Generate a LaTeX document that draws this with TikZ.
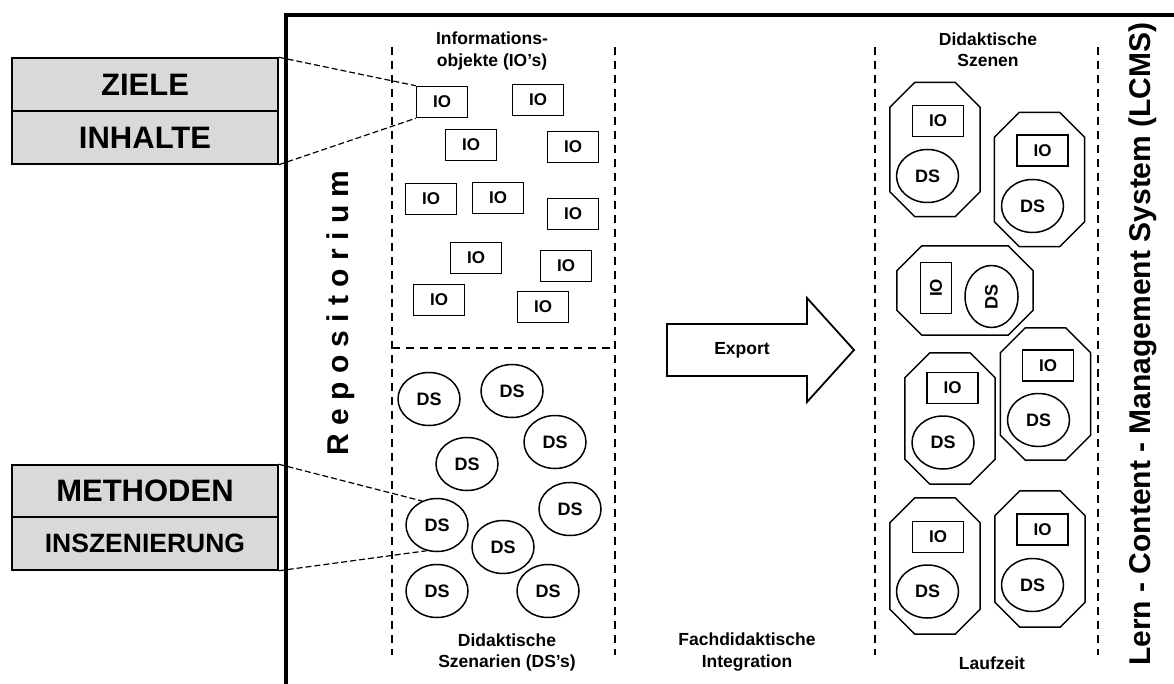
\documentclass[tikz,border=0pt]{standalone}
\usepackage{fontspec}
\setmainfont{Liberation Sans}
\usetikzlibrary{positioning,shapes.geometric,calc}
\tikzstyle{termBox}=[draw,line width=1.5pt,fill=black!15,minimum width=266pt,inner sep=0pt,font=\fontsize{31}{31}\selectfont\bfseries]
\tikzstyle{ioNode}=[draw,line width=1.5pt,minimum width=51pt,minimum height=31pt,inner sep=0pt,font=\fontsize{17}{17}\selectfont\bfseries]
\tikzstyle{dsNode}=[draw,ellipse,line width=1.5pt,minimum width=62pt,minimum height=53pt,inner sep=0pt,font=\fontsize{18}{18}\selectfont\bfseries]
\tikzstyle{sceneNode}=[minimum width=90pt,minimum height=134pt,inner sep=0pt]
\tikzstyle{labelNode}=[align=center,inner sep=0pt,font=\fontsize{17.5}{21.5}\selectfont\bfseries]
\tikzstyle{sepLine}=[line width=1.8pt,dash pattern=on 8pt off 6pt]
\tikzstyle{linkLine}=[line width=1.2pt,dash pattern=on 6pt off 3pt]

% octagon round a scene node
\newcommand{\sceneFrame}[1]{%
  \draw[line width=1.5pt] ($(#1.north west)+(25,0)$) -- ($(#1.north east)+(-25,0)$)
    -- ($(#1.north east)+(0,25)$) -- ($(#1.south east)+(0,-25)$)
    -- ($(#1.south east)+(-25,0)$) -- ($(#1.south west)+(25,0)$)
    -- ($(#1.south west)+(0,-25)$) -- ($(#1.north west)+(0,25)$) -- cycle;}

\begin{document}
\begin{tikzpicture}[x=1pt,y=-1pt]

    \useasboundingbox (0,0) rectangle (1174,684);

    % frame and columns
    \draw[line width=3.5pt] (1174,15) -| (286,684);
    \draw[sepLine] (392,47) -- (392,655);
    \draw[sepLine] (615,47) -- (615,655);
    \draw[sepLine] (875,47) -- (875,655);
    \draw[sepLine] (1098,47) -- (1098,655);
    \draw[sepLine] (392,348) -- (615,348);

    % left side terms
    \node[termBox,minimum height=53pt] (ziele) at (145,84.5) {ZIELE};
    \node[termBox,minimum height=53pt] (inhalte) at (145,137.5) {INHALTE};
    \node[termBox,minimum height=52pt] (methoden) at (145,491) {METHODEN};
    \node[termBox,minimum height=53pt,font=\fontsize{26.5}{26.5}\selectfont\bfseries] (inszenierung) at (145,543.5) {INSZENIERUNG};

    \node[rotate=90,inner sep=0pt,font=\fontsize{30}{30}\selectfont\bfseries] (repo) at (341,313) {R e p o s i t o r i u m};
    \node[rotate=90,inner sep=0pt,font=\fontsize{30}{30}\selectfont\bfseries] (lcms) at (1143,344) {Lern - Content - Management System (LCMS)};

    % information objects
    \node[labelNode] (ioTitle) at (492,51) {Informations-\\objekte (IO's)};
    \node[ioNode] (io1) at (442,102) {IO};
    \node[ioNode] (io2) at (538,100) {IO};
    \node[ioNode] (io3) at (471,145) {IO};
    \node[ioNode] (io4) at (573,147) {IO};
    \node[ioNode] (io5) at (431,199) {IO};
    \node[ioNode] (io6) at (498,198) {IO};
    \node[ioNode] (io7) at (573,214) {IO};
    \node[ioNode] (io8) at (476,258) {IO};
    \node[ioNode] (io9) at (566,266) {IO};
    \node[ioNode] (io10) at (439,300) {IO};
    \node[ioNode] (io11) at (543,307) {IO};

    % didactic scenarios
    \node[dsNode] (ds1) at (429,399) {DS};
    \node[dsNode] (ds2) at (512,391) {DS};
    \node[dsNode] (ds3) at (555,442) {DS};
    \node[dsNode] (ds4) at (467,464) {DS};
    \node[dsNode] (ds5) at (570,509) {DS};
    \node[dsNode] (ds6) at (437,525) {DS};
    \node[dsNode] (ds7) at (503,547) {DS};
    \node[dsNode] (ds8) at (437,591) {DS};
    \node[dsNode] (ds9) at (548,591) {DS};
    \node[labelNode] (dsTitle) at (507,652.5) {Didaktische\\Szenarien (DS's)};

    \draw[linkLine] (ziele.north east) -- (io1.north west);
    \draw[linkLine] (inhalte.south east) -- (io1.south west);
    \draw[linkLine] (methoden.north east) -- (ds6.122);
    \draw[linkLine] (inszenierung.south east) -- (ds6.-112);

    % export
    \draw[line width=1.8pt] (667,324) -- (807,324) -- (807,298) -- (854,350) -- (807,402) -- (807,376) -- (667,376) -- cycle;
    \node[labelNode] (export) at (742,350) {Export};
    \node[labelNode] (integration) at (747,652) {Fachdidaktische\\Integration};

    % didactic scenes
    \node[labelNode] (scTitle) at (988,49.5) {Didaktische\\Szenen};
    \node[sceneNode] (sc1) at (935,149.5) {};
    \node[sceneNode] (sc2) at (1039.5,179.5) {};
    \node[sceneNode,minimum width=136pt,minimum height=89pt] (sc3) at (965,290.5) {};
    \node[sceneNode,minimum height=131pt] (sc4) at (950,418.5) {};
    \node[sceneNode,minimum height=132pt] (sc5) at (1045.5,394) {};
    \node[sceneNode,minimum height=136pt] (sc6) at (935,566) {};
    \node[sceneNode,minimum height=136pt] (sc7) at (1040,559) {};
    \sceneFrame{sc1}
    \sceneFrame{sc2}
    \sceneFrame{sc3}
    \sceneFrame{sc4}
    \sceneFrame{sc5}
    \sceneFrame{sc6}
    \sceneFrame{sc7}

    \node[ioNode] (scIO1) at (938,121) {IO};
    \node[dsNode] (scDS1) at (927.5,176) {DS};
    \node[ioNode] (scIO2) at (1042.5,150.5) {IO};
    \node[dsNode] (scDS2) at (1032.5,206) {DS};
    \node[ioNode,rotate=90] (scIO3) at (936,288) {IO};
    \node[dsNode,rotate=90] (scDS3) at (991.5,296.5) {DS};
    \node[ioNode] (scIO4) at (952.5,388) {IO};
    \node[dsNode] (scDS4) at (943,442.5) {DS};
    \node[ioNode] (scIO5) at (1048,365.5) {IO};
    \node[dsNode] (scDS5) at (1038.5,420) {DS};
    \node[ioNode] (scIO6) at (938,537) {IO};
    \node[dsNode] (scDS6) at (927.5,591.5) {DS};
    \node[ioNode] (scIO7) at (1042.5,529.5) {IO};
    \node[dsNode] (scDS7) at (1032.5,585) {DS};
    \node[labelNode] (laufzeit) at (992,663) {Laufzeit};

\end{tikzpicture}
\end{document}
